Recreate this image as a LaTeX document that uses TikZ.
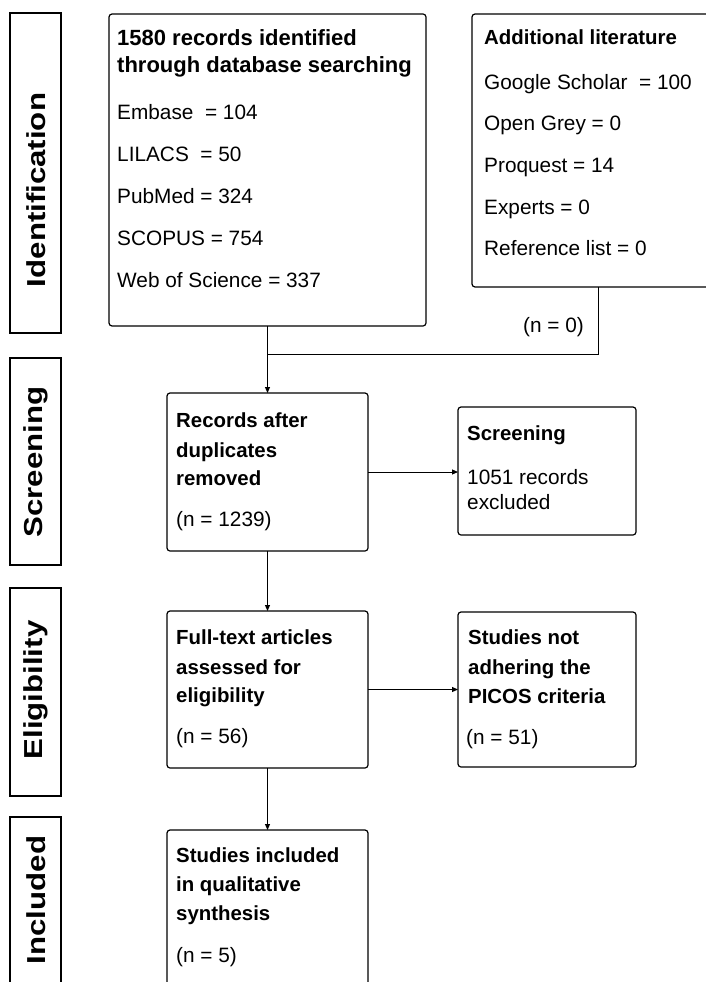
\documentclass[tikz,border=0pt]{standalone}
\usepackage{fontspec}
\setmainfont{Liberation Sans}
\usetikzlibrary{arrows.meta}
\begin{document}
\begin{tikzpicture}[x=1pt,y=-1pt,
  box/.style={draw, rounded corners=3pt, line width=1.2pt, anchor=north west, inner sep=0pt, outer sep=0pt},
  side/.style={draw, line width=2.5pt, anchor=north west, inner sep=0pt, outer sep=0pt},
  sidelabel/.style={rotate=90, font=\fontsize{26}{30}\selectfont\bfseries, inner sep=0pt},
  tb/.style={anchor=base west, inner sep=0pt, font=\fontsize{20.4}{24}\selectfont\bfseries},
  tbig/.style={anchor=base west, inner sep=0pt, font=\fontsize{22}{26}\selectfont\bfseries},
  tr/.style={anchor=base west, inner sep=0pt, font=\fontsize{20.8}{24}\selectfont},
  arr/.style={line width=1pt, -{Triangle[length=6pt,width=5pt]}},
  ln/.style={line width=1pt}
]
\useasboundingbox (0,0) rectangle (706,982);
% side labels
\node[side, minimum width=51pt, minimum height=320pt] (s1) at (10,13) {};
\node[side, minimum width=51pt, minimum height=207pt] (s2) at (10,358) {};
\node[side, minimum width=51pt, minimum height=208pt] (s3) at (10,588) {};
\node[side, minimum width=51pt, minimum height=200pt] (s4) at (10,817) {};
\node[sidelabel] (l1) at (36,190) {\scalebox{1.2}[1]{Identification}};
\node[sidelabel] (l2) at (36,462) {\scalebox{1.2}[1]{Screening}};
\node[sidelabel] (l3) at (36,690) {\scalebox{1.2}[1]{Eligibility}};
\node[sidelabel] (l4) at (36,900) {\scalebox{1.2}[1]{Included}};
% boxes
\node[box, minimum width=317pt, minimum height=312pt] (b1) at (109,14) {};
\node[box, minimum width=240pt, minimum height=273pt] (b2) at (472,14) {};
\node[box, minimum width=201pt, minimum height=158pt] (b3) at (167,393) {};
\node[box, minimum width=178pt, minimum height=128pt] (b4) at (458,407) {};
\node[box, minimum width=201pt, minimum height=157pt] (b5) at (167,611) {};
\node[box, minimum width=178pt, minimum height=155pt] (b6) at (458,612) {};
\node[box, minimum width=201pt, minimum height=170pt] (b7) at (167,830) {};
% box1 text
\node[tbig] (t11) at (117,46) {1580 records identified};
\node[tbig] (t12) at (117,72) {through database searching};
\node[tr] (t13) at (117,119) {Embase \ = 104};
\node[tr] (t14) at (117,161) {LILACS \ = 50};
\node[tr] (t15) at (117,203) {PubMed = 324};
\node[tr] (t16) at (117,245) {SCOPUS = 754};
\node[tr] (t17) at (117,287) {Web of Science = 337};
% box2 text
\node[tb] (t21) at (484,45) {Additional literature};
\node[tr] (t22) at (484,89) {Google Scholar \ = 100};
\node[tr] (t23) at (484,130) {Open Grey = 0};
\node[tr] (t24) at (484,172) {Proquest = 14};
\node[tr] (t25) at (484,214) {Experts = 0};
\node[tr] (t26) at (484,255) {Reference list = 0};
\node[tr] (n0) at (523,332) {(n = 0)};
% box3
\node[tb] (t31) at (176,427) {Records after};
\node[tb] (t32) at (176,457) {duplicates};
\node[tb] (t33) at (176,485) {removed};
\node[tr] (t34) at (176,526) {(n = 1239)};
% box4
\node[tb] (t41) at (467,440) {Screening};
\node[tr] (t42) at (467,484) {1051 records};
\node[tr] (t43) at (467,509) {excluded};
% box5
\node[tb] (t51) at (176,644) {Full-text articles};
\node[tb] (t52) at (176,674) {assessed for};
\node[tb] (t53) at (176,702) {eligibility};
\node[tr] (t54) at (176,743) {(n = 56)};
% box6
\node[tb] (t61) at (468,644) {Studies not};
\node[tb] (t62) at (468,674) {adhering the};
\node[tb] (t63) at (468,703) {PICOS criteria};
\node[tr] (t64) at (466,744) {(n = 51)};
% box7
\node[tb] (t71) at (176,862) {Studies included};
\node[tb] (t72) at (176,891) {in qualitative};
\node[tb] (t73) at (176,920) {synthesis};
\node[tr] (t74) at (176,962) {(n = 5)};
% connectors
\coordinate (j) at (b1.south |- 0,354);
\draw[arr] (b1.south) -- (b3.north);
\draw[ln] ([xshift=6pt]b2.south) |- (j);
\draw[arr] (b3.east) -- (b3.east -| b4.west);
\draw[arr] (b3.south) -- (b5.north);
\draw[arr] (b5.east) -- (b5.east -| b6.west);
\draw[arr] (b5.south) -- (b7.north);
\end{tikzpicture}
\end{document}
